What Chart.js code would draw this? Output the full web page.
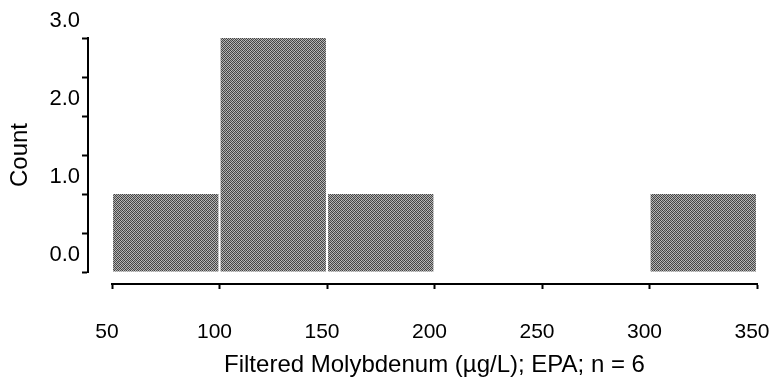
<!DOCTYPE html>
<html>
<head>
<meta charset="utf-8">
<script src="https://cdn.jsdelivr.net/npm/chart.js@4/dist/chart.umd.min.js"></script>
<style>
  html, body { margin: 0; padding: 0; background: #fff; }
  canvas { display: block; }
</style>
</head>
<body>
<canvas id="hist" width="777" height="384"></canvas>
<script>
// Histogram bins (lower edge, µg/L) and counts per bin
var binStarts = [50, 100, 150, 200, 250, 300];
var binWidth = 50;
var counts = [1, 3, 1, 0, 0, 1];
var xTicks = [50, 100, 150, 200, 250, 300, 350];
var yTicks = [0, 1, 2, 3];

Chart.defaults.font.family = '"Liberation Sans", Arial, Helvetica, sans-serif';
Chart.defaults.color = '#000';

// Checkered halftone fill like the scanned original
function halftone() {
    var c = document.createElement('canvas');
    c.width = 4; c.height = 4;
    var g = c.getContext('2d');
    var darks = ['#3e3e3e', '#525252'], lights = ['#bebebe', '#a6a6a6'];
    for (var y = 0; y < 4; y++) {
        for (var x = 0; x < 4; x++) {
            var k = (x >> 1) ^ (y >> 1);
            g.fillStyle = ((x + y) % 2) ? lights[k] : darks[k];
            g.fillRect(x, y, 1, 1);
        }
    }
    return g.createPattern(c, 'repeat');
}

var points = binStarts.map(function (s, i) { return { x: s + binWidth / 2, y: counts[i] }; });

new Chart(document.getElementById('hist'), {
    type: 'bar',
    data: { datasets: [{
        data: points,
        backgroundColor: halftone(),
        borderWidth: 0,
        barPercentage: 0.98,
        categoryPercentage: 1.0
    }] },
    options: {
        responsive: false, animation: false,
        layout: { padding: { top: 38, right: 20, left: 0, bottom: 0 } },
        plugins: { legend: { display: false }, tooltip: { enabled: false } },
        scales: {
            x: {
                type: 'linear', position: 'bottom', weight: 1, offset: false,
                min: 50, max: 350,
                afterBuildTicks: function (s) { s.ticks = xTicks.map(function (v) { return { value: v }; }); },
                // fixed band below the plot; edge labels may hang into the margin
                afterFit: function (s) { s.height = 100; s.paddingLeft = 0; s.paddingRight = 0; },
                grid: { display: true, offset: false, drawOnChartArea: false, tickLength: 5, tickWidth: 2, tickColor: '#000' },
                border: { display: true, color: '#000', width: 2 },
                ticks: { font: { size: 21 }, padding: 31, labelOffset: -5, maxRotation: 0, autoSkip: false },
                title: { display: true, text: 'Filtered Molybdenum (µg/L); EPA; n = 6', font: { size: 24 }, padding: { bottom: 4 } }
            },
            xGap: {
                type: 'linear', position: 'bottom', weight: 0,
                afterFit: function (s) { s.height = 12; s.paddingLeft = 0; s.paddingRight = 0; },
                grid: { display: false }, border: { display: false }, ticks: { display: false }
            },
            y: {
                type: 'linear', position: 'left', weight: 1,
                min: 0, max: 3,
                ticks: {
                    stepSize: 0.5, font: { size: 22 }, padding: 2, labelOffset: -17,
                    callback: function (v) { return yTicks.indexOf(v) >= 0 ? v.toFixed(1) : ''; }
                },
                afterFit: function (s) { s.width = 88; },
                grid: { display: true, drawOnChartArea: false, tickLength: 6, tickWidth: 2, tickColor: '#000' },
                border: { display: true, color: '#000', width: 2 },
                title: { display: true, text: 'Count', font: { size: 24 }, padding: { top: 6 } }
            },
            yGap: {
                type: 'linear', position: 'left', weight: 0,
                afterFit: function (s) { s.width = 24; },
                grid: { display: false }, border: { display: false }, ticks: { display: false }
            }
        }
    }
});
</script>
</body>
</html>
